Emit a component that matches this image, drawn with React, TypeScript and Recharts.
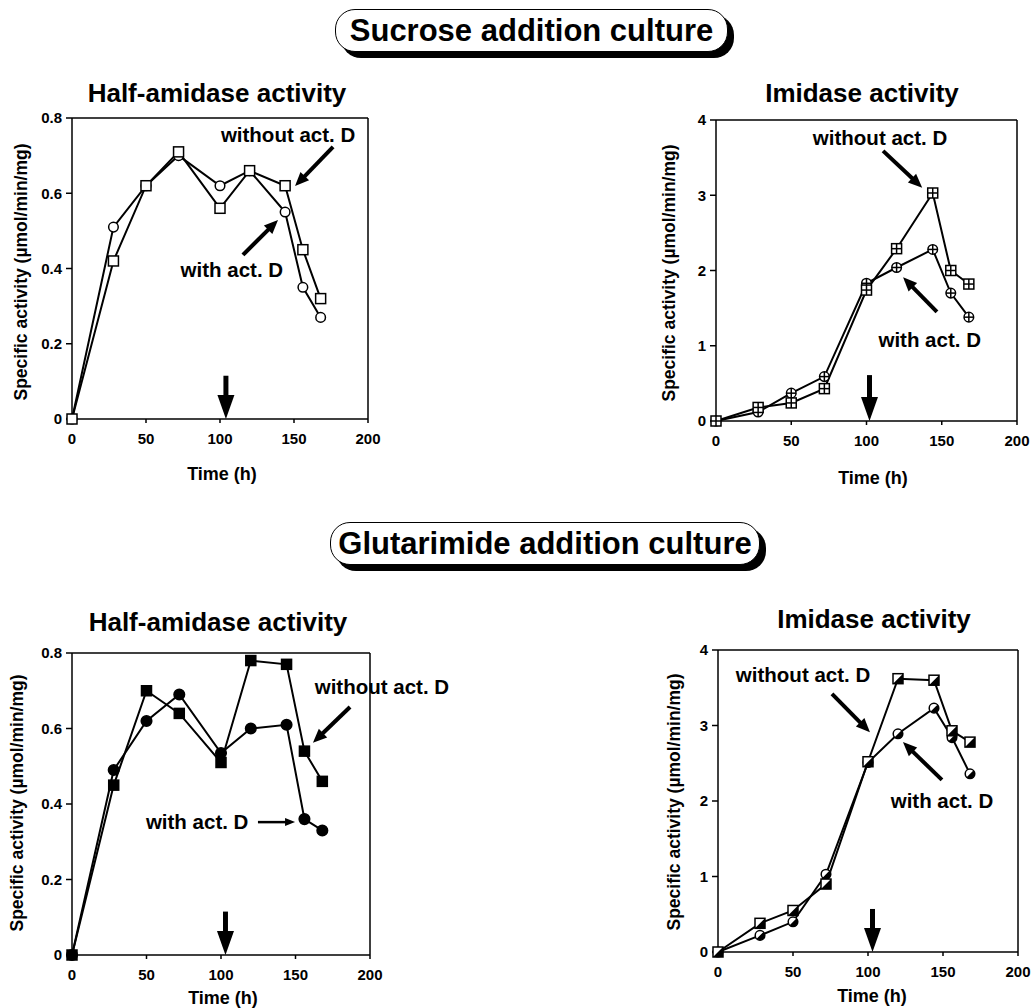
import React from "react";
import { LineChart, Line, XAxis, YAxis, ReferenceLine, ReferenceDot } from "recharts";

// sampling times (h)
const hours = [0, 28, 50, 72, 100, 120, 144, 156, 168];

// sucrose addition culture
const sucHalfWith = [0, 0.51, 0.62, 0.7, 0.62, 0.66, 0.55, 0.35, 0.27];
const sucHalfWithout = [0, 0.42, 0.62, 0.71, 0.56, 0.66, 0.62, 0.45, 0.32];
const sucImiWith = [0, 0.12, 0.37, 0.59, 1.83, 2.04, 2.28, 1.7, 1.38];
const sucImiWithout = [0, 0.18, 0.24, 0.43, 1.74, 2.29, 3.03, 2.0, 1.82];

// glutarimide addition culture
const gluHalfWith = [0, 0.49, 0.62, 0.69, 0.535, 0.6, 0.61, 0.36, 0.33];
const gluHalfWithout = [0, 0.45, 0.7, 0.64, 0.51, 0.78, 0.77, 0.54, 0.46];
const gluImiWith = [0, 0.22, 0.4, 1.03, 2.51, 2.89, 3.23, 2.84, 2.36];
const gluImiWithout = [0, 0.38, 0.55, 0.9, 2.52, 3.62, 3.6, 2.93, 2.78];

const xTicks = [0, 50, 100, 150, 200];
const halfTicks = [0, 0.2, 0.4, 0.6, 0.8];
const imiTicks = [0, 1, 2, 3, 4];

const FONT = '"Liberation Sans", Arial, Helvetica, sans-serif';

const rows = (w: number[], wo: number[]) => hours.map((t, i) => ({ t, with: w[i], without: wo[i] }));

function Marker({ cx, cy, kind }: any) {
  if (cx == null || cy == null) return null;
  const s = 5;
  const r = 4.8;
  const st = { stroke: "#000", strokeWidth: 1.5 };
  switch (kind) {
    case "openSquare":
      return <rect x={cx - s} y={cy - s} width={2 * s} height={2 * s} fill="#fff" {...st} />;
    case "openCircle":
      return <circle cx={cx} cy={cy} r={r} fill="#fff" {...st} />;
    case "gridSquare":
      return (
        <g>
          <rect x={cx - s} y={cy - s} width={2 * s} height={2 * s} fill="#fff" {...st} />
          <line x1={cx} y1={cy - s} x2={cx} y2={cy + s} {...st} />
          <line x1={cx - s} y1={cy} x2={cx + s} y2={cy} {...st} />
        </g>
      );
    case "plusCircle":
      return (
        <g>
          <circle cx={cx} cy={cy} r={r} fill="#fff" {...st} />
          <line x1={cx} y1={cy - r} x2={cx} y2={cy + r} {...st} />
          <line x1={cx - r} y1={cy} x2={cx + r} y2={cy} {...st} />
        </g>
      );
    case "filledSquare":
      return <rect x={cx - s} y={cy - s} width={2 * s} height={2 * s} fill="#000" {...st} />;
    case "filledCircle":
      return <circle cx={cx} cy={cy} r={r + 0.5} fill="#000" {...st} />;
    case "halfSquare":
      return (
        <g>
          <rect x={cx - s} y={cy - s} width={2 * s} height={2 * s} fill="#fff" {...st} />
          <polygon points={`${cx + s},${cy - s} ${cx + s},${cy + s} ${cx - s},${cy + s}`} fill="#000" />
        </g>
      );
    case "halfCircle": {
      const d = r / Math.SQRT2;
      return (
        <g>
          <circle cx={cx} cy={cy} r={r} fill="#fff" {...st} />
          <path d={`M${cx + d},${cy - d} A${r},${r} 0 0 1 ${cx - d},${cy + d} Z`} fill="#000" />
        </g>
      );
    }
    default:
      return null;
  }
}

function Arrow({ x1, y1, x2, y2, w, head, hw }: any) {
  const dx = x2 - x1;
  const dy = y2 - y1;
  const len = Math.hypot(dx, dy) || 1;
  const ux = dx / len;
  const uy = dy / len;
  const bx = x2 - ux * head;
  const by = y2 - uy * head;
  const px = (-uy * hw) / 2;
  const py = (ux * hw) / 2;
  return (
    <g>
      <line x1={x1} y1={y1} x2={bx + ux} y2={by + uy} stroke="#000" strokeWidth={w} />
      <polygon points={`${x2},${y2} ${bx + px},${by + py} ${bx - px},${by - py}`} fill="#000" />
    </g>
  );
}

const ARROW_SIZES: any = {
  big: { w: 5, head: 24, hw: 17 },
  mid: { w: 4, head: 14, hw: 12 },
  thin: { w: 2.5, head: 10, hw: 8 },
};

function CenterText({ x, y, size, children, rotate }: any) {
  return (
    <div
      style={{
        position: "absolute",
        left: x,
        top: y,
        transform: `translate(-50%, -50%)${rotate ? " rotate(-90deg)" : ""}`,
        whiteSpace: "nowrap",
        fontFamily: FONT,
        fontWeight: 700,
        fontSize: size,
        lineHeight: 1,
        color: "#000",
      }}
    >
      {children}
    </div>
  );
}

function Panel({ plot, ymax, yticks, data, kinds, notes, pointers, title, titleAt, xLabelAt, yLabelAt }: any) {
  const [x0, y0, x1, y1] = plot;
  const left = x0 - 72;
  const top = y0 - 40;
  const width = x1 - x0 + 152;
  const height = y1 - y0 + 80;
  const tick = { fontSize: 15, fontWeight: 700, fill: "#000", fontFamily: FONT };
  return (
    <>
      <CenterText x={titleAt[0]} y={titleAt[1]} size={26}>{title}</CenterText>
      <CenterText x={xLabelAt[0]} y={xLabelAt[1]} size={18}>Time (h)</CenterText>
      <CenterText x={yLabelAt[0]} y={yLabelAt[1]} size={17.5} rotate>
        Specific activity (µmol/min/mg)
      </CenterText>
      <div style={{ position: "absolute", left, top }}>
        <LineChart width={width} height={height} data={data} margin={{ top: 40, right: 80, bottom: 10, left: 12 }}>
          <XAxis
            dataKey="t"
            type="number"
            domain={[0, 200]}
            ticks={xTicks}
            height={30}
            tick={tick}
            tickSize={4}
            tickMargin={10}
            axisLine={{ stroke: "#000", strokeWidth: 1.5 }}
            tickLine={{ stroke: "#000", strokeWidth: 1.5 }}
          />
          <YAxis
            type="number"
            domain={[0, ymax]}
            ticks={yticks}
            width={60}
            tick={tick}
            tickSize={6}
            tickMargin={4}
            axisLine={{ stroke: "#000", strokeWidth: 1.5 }}
            tickLine={{ stroke: "#000", strokeWidth: 1.5 }}
          />
          <ReferenceLine y={ymax} stroke="#000" strokeWidth={1.5} />
          <ReferenceLine x={200} stroke="#000" strokeWidth={1.5} />
          {pointers.map((p: any, i: number) => (
            <ReferenceLine
              key={`p${i}`}
              segment={[{ x: p.from[0], y: p.from[1] }, { x: p.to[0], y: p.to[1] }]}
              ifOverflow="visible"
              shape={(sp: any) => <Arrow x1={sp.x1} y1={sp.y1} x2={sp.x2} y2={sp.y2} {...ARROW_SIZES[p.size]} />}
            />
          ))}
          <Line
            dataKey="with"
            stroke="#000"
            strokeWidth={2}
            isAnimationActive={false}
            dot={(p: any) => <Marker key={`w${p.index}`} cx={p.cx} cy={p.cy} kind={kinds[0]} />}
          />
          <Line
            dataKey="without"
            stroke="#000"
            strokeWidth={2}
            isAnimationActive={false}
            dot={(p: any) => <Marker key={`o${p.index}`} cx={p.cx} cy={p.cy} kind={kinds[1]} />}
          />
          {notes.map((n: any, i: number) => (
            <ReferenceDot
              key={`n${i}`}
              x={n.x}
              y={n.y}
              r={0}
              fill="none"
              stroke="none"
              ifOverflow="visible"
              label={{ value: n.text, position: "center", fontSize: 20.5, fontWeight: 700, fill: "#000", fontFamily: FONT }}
            />
          ))}
        </LineChart>
      </div>
    </>
  );
}

function Header({ x, y, w, h, children }: any) {
  return (
    <div
      style={{
        position: "absolute",
        left: x,
        top: y,
        width: w,
        height: h,
        border: "1.5px solid #000",
        borderRadius: 20,
        boxShadow: "6px 6px 0 #000",
        background: "#fff",
        display: "flex",
        alignItems: "center",
        justifyContent: "center",
        fontFamily: FONT,
        fontWeight: 700,
        fontSize: 31,
        boxSizing: "border-box",
      }}
    >
      {children}
    </div>
  );
}

export default function App() {
  return (
    <div style={{ position: "absolute", left: 0, top: 0, width: 1032, height: 1008, background: "#fff" }}>
      <Header x={335} y={9} w={393} h={43}>Sucrose addition culture</Header>
      <Header x={330} y={522} w={430} h={43}>Glutarimide addition culture</Header>

      <Panel
        plot={[72, 118, 368, 419]}
        ymax={0.8}
        yticks={halfTicks}
        data={rows(sucHalfWith, sucHalfWithout)}
        kinds={["openCircle", "openSquare"]}
        title="Half-amidase activity"
        titleAt={[217, 93]}
        xLabelAt={[222, 474]}
        yLabelAt={[22, 272]}
        notes={[
          { text: "without act. D", x: 146, y: 0.755 },
          { text: "with act. D", x: 108, y: 0.396 },
        ]}
        pointers={[
          { from: [176.4, 0.723], to: [150.7, 0.619], size: "mid" },
          { from: [115.5, 0.436], to: [139.2, 0.529], size: "mid" },
          { from: [104, 0.115], to: [104, 0], size: "big" },
        ]}
      />
      <Panel
        plot={[716, 120, 1017, 421]}
        ymax={4}
        yticks={imiTicks}
        data={rows(sucImiWith, sucImiWithout)}
        kinds={["plusCircle", "gridSquare"]}
        title="Imidase activity"
        titleAt={[862, 93]}
        xLabelAt={[873, 478]}
        yLabelAt={[670, 273]}
        notes={[
          { text: "without act. D", x: 109, y: 3.77 },
          { text: "with act. D", x: 142, y: 1.08 },
        ]}
        pointers={[
          { from: [111, 3.59], to: [137, 3.1], size: "mid" },
          { from: [146.8, 1.45], to: [124.3, 1.91], size: "mid" },
          { from: [102, 0.61], to: [102, 0], size: "big" },
        ]}
      />
      <Panel
        plot={[72, 653, 370, 955]}
        ymax={0.8}
        yticks={halfTicks}
        data={rows(gluHalfWith, gluHalfWithout)}
        kinds={["filledCircle", "filledSquare"]}
        title="Half-amidase activity"
        titleAt={[218, 622]}
        xLabelAt={[223, 998]}
        yLabelAt={[18, 803]}
        notes={[
          { text: "without act. D", x: 208, y: 0.71 },
          { text: "with act. D", x: 84, y: 0.352 },
        ]}
        pointers={[
          { from: [186.6, 0.657], to: [161.7, 0.562], size: "mid" },
          { from: [124.8, 0.352], to: [149.7, 0.352], size: "thin" },
          { from: [103, 0.115], to: [103, 0], size: "big" },
        ]}
      />
      <Panel
        plot={[718, 650, 1018, 952]}
        ymax={4}
        yticks={imiTicks}
        data={rows(gluImiWith, gluImiWithout)}
        kinds={["halfCircle", "halfSquare"]}
        title="Imidase activity"
        titleAt={[874, 619]}
        xLabelAt={[872, 996]}
        yLabelAt={[675, 802]}
        notes={[
          { text: "without act. D", x: 56.7, y: 3.67 },
          { text: "with act. D", x: 149.3, y: 2.01 },
        ]}
        pointers={[
          { from: [76, 3.42], to: [101.3, 2.91], size: "mid" },
          { from: [149.3, 2.28], to: [123.3, 2.78], size: "mid" },
          { from: [103, 0.57], to: [103, 0], size: "big" },
        ]}
      />
    </div>
  );
}
